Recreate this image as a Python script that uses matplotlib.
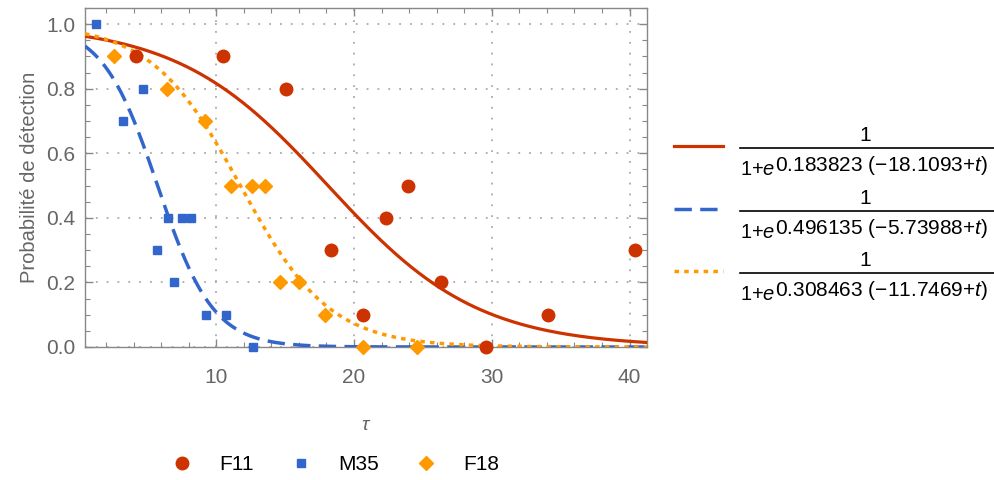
import numpy as np
import matplotlib
matplotlib.use('Agg')
import matplotlib.pyplot as plt
import matplotlib.ticker as tck
from matplotlib.lines import Line2D

plt.rcParams['font.family'] = ['Liberation Sans', 'DejaVu Sans']
plt.rcParams['mathtext.fontset'] = 'custom'
plt.rcParams['mathtext.rm'] = 'Liberation Sans'
plt.rcParams['mathtext.it'] = 'Liberation Sans:italic'

# donnees
f11_t = [4.2, 10.5, 15.05, 18.3, 20.65, 22.3, 23.95, 26.3, 29.55, 34.05, 40.4]
f11_p = [0.9, 0.9, 0.8, 0.3, 0.1, 0.4, 0.5, 0.2, 0.0, 0.1, 0.3]

m35_t = [1.3, 3.25, 4.7, 5.7, 6.5, 6.95, 7.5, 8.2, 9.25, 10.7, 12.7]
m35_p = [1.0, 0.7, 0.8, 0.3, 0.4, 0.2, 0.4, 0.4, 0.1, 0.1, 0.0]

f18_t = [2.55, 6.4, 9.15, 11.05, 12.6, 13.55, 14.6, 16.0, 17.9, 20.65, 24.55]
f18_p = [0.9, 0.8, 0.7, 0.5, 0.5, 0.5, 0.2, 0.2, 0.1, 0.0, 0.0]

# parametres des ajustements logistiques (a, t0)
fits = {'F11': (0.183823, 18.1093), 'M35': (0.496135, 5.73988), 'F18': (0.308463, 11.7469)}
fit_labels = ['0.183823 (\u221218.1093+$t$)', '0.496135 (\u22125.73988+$t$)', '0.308463 (\u221211.7469+$t$)']
names = ['F11', 'M35', 'F18']

red = '#CC3300'
blue = '#3366CC'
orange = '#FF9900'
gray = '#666666'

xmin, xmax = 0.47, 41.27

fig = plt.figure(figsize=(9.95, 4.8), dpi=100)
ax = fig.add_axes([85/995, 1-347/480, (647-85)/995, (347-8)/480])

tt = np.linspace(xmin, xmax, 400)
def logi(t, a, t0):
    return 1/(1+np.exp(a*(t-t0)))

styles = [dict(color=red, lw=2.3), dict(color=blue, lw=2.5, dashes=(5, 2.4)),
          dict(color=orange, lw=2.5, dashes=(1.3, 1.5))]

for i, n in enumerate(names):
    ax.plot(tt, logi(tt, *fits[n]), zorder=3, **styles[i])

ax.plot(f11_t, f11_p, 'o', color=red, ms=9, clip_on=False, zorder=4)
ax.plot(m35_t, m35_p, 's', color=blue, ms=6, clip_on=False, zorder=4)
ax.plot(f18_t, f18_p, 'D', color=orange, ms=7, clip_on=False, zorder=4)

ax.set_xlim(xmin, xmax)
ax.set_ylim(0, 1.05)

ax.xaxis.set_major_locator(tck.MultipleLocator(10))
ax.xaxis.set_minor_locator(tck.MultipleLocator(2))
ax.yaxis.set_major_locator(tck.MultipleLocator(0.2))
ax.yaxis.set_minor_locator(tck.MultipleLocator(0.05))
ax.yaxis.set_major_formatter(tck.FormatStrFormatter('%.1f'))

ax.tick_params(which='both', direction='in', top=True, right=True, color='#888888',
               labelcolor=gray, labelsize=15)
ax.tick_params(which='major', length=6, width=1)
ax.tick_params(which='minor', length=3.5, width=0.8)
ax.tick_params(axis='x', which='major', pad=15)
ax.tick_params(axis='y', which='major', pad=7)
for s in ax.spines.values():
    s.set_color('#888888')
    s.set_linewidth(1)

ax.grid(True, which='major', color='#AAAAAA', lw=1.3, linestyle=(0, (1, 5)))

ax.set_ylabel('Probabilit\u00e9 de d\u00e9tection', color=gray, fontsize=14.5, labelpad=5)
ax.set_xlabel('$\\tau$', color=gray, fontsize=14, labelpad=22)

# legende du bas
h1 = Line2D([], [], marker='o', ls='', color=red, ms=9)
h2 = Line2D([], [], marker='s', ls='', color=blue, ms=6)
h3 = Line2D([], [], marker='D', ls='', color=orange, ms=7)
fig.legend([h1, h2, h3], names, loc='center left', bbox_to_anchor=(172/995, 1-465/480),
           ncol=3, frameon=False, fontsize=15, handletextpad=1.25, columnspacing=1.8,
           handlelength=1.0, borderpad=0, borderaxespad=0)

# legende de droite avec les formules
rows_y = [146, 209, 271]
for i, y in enumerate(rows_y):
    yf = 1 - y/480
    fig.add_artist(Line2D([674/995, 723/995], [yf, yf], transform=fig.transFigure, **styles[i]))
    fig.add_artist(Line2D([740/995, 995/995], [1-(y+2)/480]*2, transform=fig.transFigure,
                          color='black', lw=1.2))
    fig.text(865/995, 1-(y-1)/480, '1', fontsize=15, ha='center', va='bottom')
    base = fig.text(740/995, 1-(y+29)/480, '1+$e$', fontsize=14.5, ha='left', va='baseline')
    ax.annotate(fit_labels[i], xy=(1, 0), xycoords=base, xytext=(0, 5.5), textcoords='offset points',
                fontsize=15, ha='left', va='baseline')

fig.savefig('out.png', dpi=100)
